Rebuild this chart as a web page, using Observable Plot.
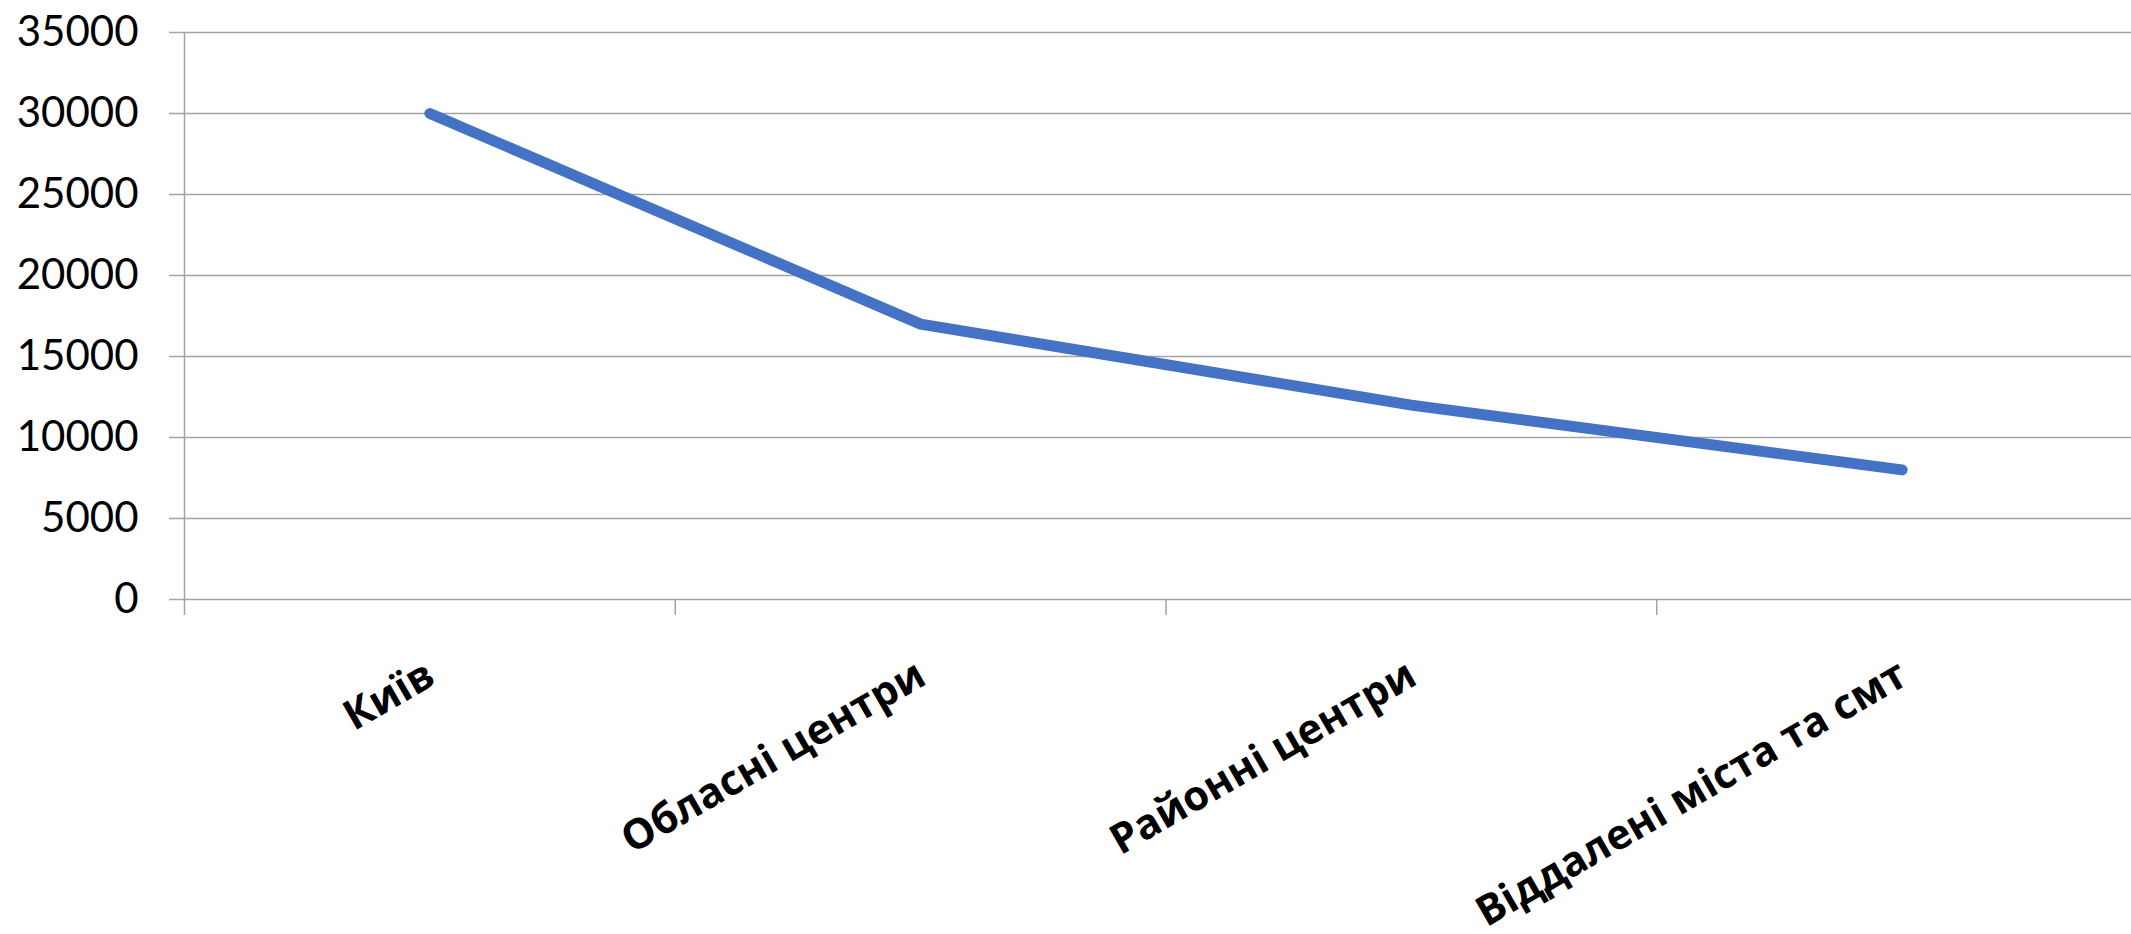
<!DOCTYPE html>
<html>
<head>
<meta charset="utf-8">
<script src="https://cdn.jsdelivr.net/npm/d3@7"></script>
<script src="https://cdn.jsdelivr.net/npm/@observablehq/plot@0.6"></script>
<style>
  html, body { margin: 0; padding: 0; background: #fff; overflow: hidden; }
  #chart svg { display: block; }
</style>
</head>
<body>
<div id="chart"></div>
<script>
const categories = ["Київ", "Обласні центри", "Районні центри", "Віддалені міста та смт"];
const values = [30000, 17000, 12000, 8000];
const yTicks = [0, 5000, 10000, 15000, 20000, 25000, 30000, 35000];

const data = categories.map((c, i) => ({category: c, index: i, value: values[i]}));
const boundaries = categories.map((c, i) => i - 0.5);

const grid = "#a3a3a3";

const chart = Plot.plot({
  width: 2131,
  height: 934,
  marginLeft: 184,
  marginRight: 0,
  marginTop: 32,
  marginBottom: 335,
  style: {background: "#fff", fontFamily: "Lato, 'Open Sans', sans-serif", overflow: "visible"},
  x: {type: "linear", domain: [-0.5, categories.length - 0.5], range: [184, 2147]},
  y: {domain: [0, 35000]},
  marks: [
    Plot.gridY(yTicks, {stroke: grid, strokeOpacity: 1, strokeWidth: 1.5}),
    Plot.axisY(yTicks, {tickSize: 15, tickPadding: 31, stroke: grid, strokeWidth: 1.5, fontSize: 42, fill: "#000", label: null, tickFormat: d => String(d)}),
    Plot.ruleX([-0.5], {y1: 0, y2: 35000, stroke: grid, strokeWidth: 1.5}),
    Plot.axisX(boundaries, {tickSize: 16, stroke: grid, strokeWidth: 1.5, tickFormat: () => "", label: null}),
    Plot.line(data, {x: "index", y: "value", stroke: "#4472C4", strokeWidth: 11, strokeLinecap: "round", strokeLinejoin: "round"}),
    Plot.text(data, {x: "index", y: () => 0, text: "category", rotate: -30, textAnchor: "end", lineAnchor: "top", dx: -7, dy: 58, fontSize: 41.5, fontWeight: "bold", fontFamily: "'Open Sans', sans-serif", fill: "#000"})
  ]
});
document.getElementById("chart").appendChild(chart);
</script>
</body>
</html>
